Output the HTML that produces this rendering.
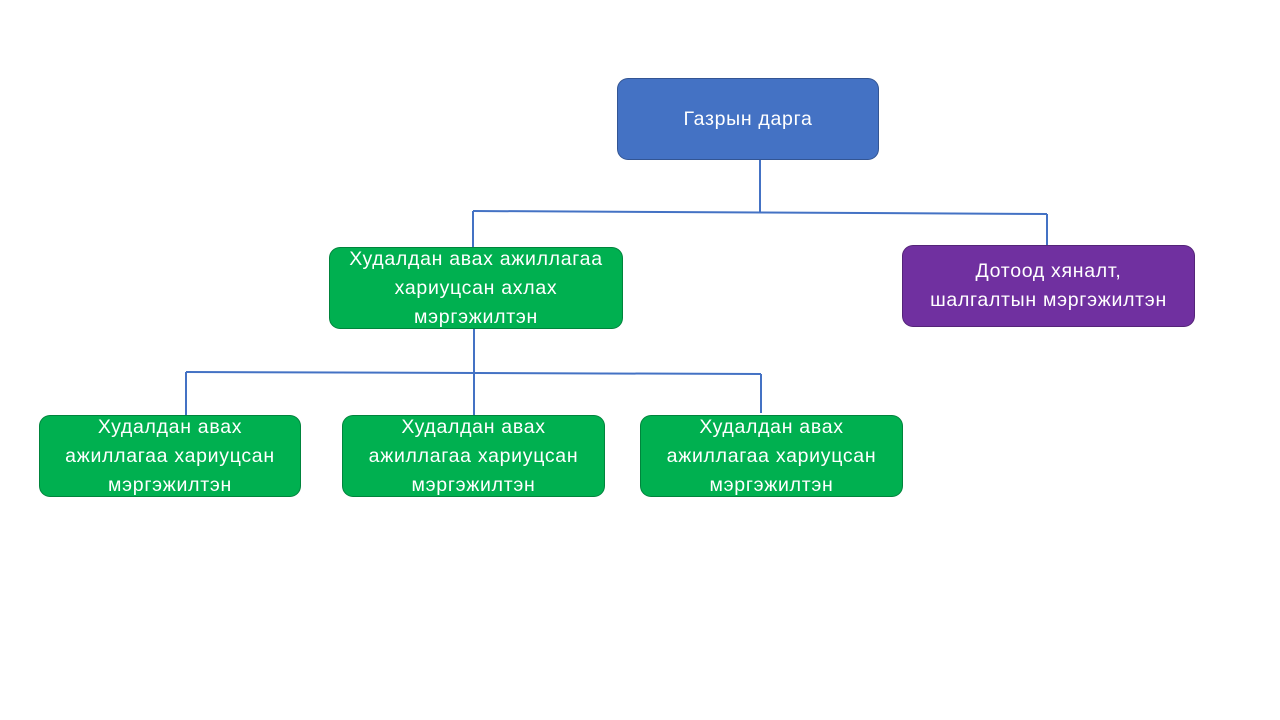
<!DOCTYPE html>
<html><head><meta charset="utf-8"><style>
body{margin:0;width:1280px;height:720px;background:#fff;position:relative;overflow:hidden;font-family:"Liberation Sans",sans-serif}
.b{position:absolute;box-sizing:border-box;border-radius:11px;color:#fff;display:flex;align-items:center;justify-content:center;text-align:center;font-size:19.5px;letter-spacing:0.7px;line-height:29px;border:1px solid rgba(0,0,0,0.25);white-space:nowrap}
.g{background:#00B050}
svg{position:absolute;left:0;top:0}
</style></head><body>
<svg width="1280" height="720">
<g stroke="#4472C4" stroke-width="2" fill="none">
<line x1="760" y1="159" x2="760" y2="212"/>
<line x1="473" y1="211" x2="1047" y2="214"/>
<line x1="473" y1="211" x2="473" y2="247"/>
<line x1="1047" y1="214" x2="1047" y2="245"/>
<line x1="474" y1="328" x2="474" y2="415"/>
<line x1="186" y1="372" x2="761" y2="374"/>
<line x1="186" y1="372" x2="186" y2="415"/>
<line x1="761" y1="374" x2="761" y2="413"/>
</g></svg>
<div class="b" style="left:617px;top:78px;width:262px;height:82px;background:#4472C4">Газрын дарга</div>
<div class="b g" style="left:329px;top:247px;width:294px;height:82px">Худалдан авах ажиллагаа<br>хариуцсан ахлах<br>мэргэжилтэн</div>
<div class="b" style="left:902px;top:245px;width:293px;height:82px;background:#7030A0">Дотоод хяналт,<br>шалгалтын мэргэжилтэн</div>
<div class="b g" style="left:39px;top:415px;width:262px;height:82px">Худалдан авах<br>ажиллагаа хариуцсан<br>мэргэжилтэн</div>
<div class="b g" style="left:342px;top:415px;width:263px;height:82px">Худалдан авах<br>ажиллагаа хариуцсан<br>мэргэжилтэн</div>
<div class="b g" style="left:640px;top:415px;width:263px;height:82px">Худалдан авах<br>ажиллагаа хариуцсан<br>мэргэжилтэн</div>
</body></html>
